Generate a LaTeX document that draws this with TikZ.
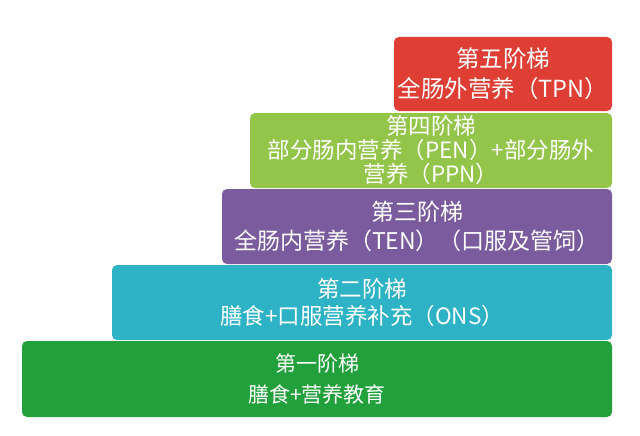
\documentclass[tikz,border=0pt]{standalone}
\usepackage{fontspec}
\setmainfont{Noto Sans CJK SC}
\definecolor{cred}{HTML}{DE3E33}
\definecolor{clgreen}{HTML}{93C54B}
\definecolor{cpurple}{HTML}{7A5B9E}
\definecolor{ccyan}{HTML}{2EB2C6}
\definecolor{cgreen}{HTML}{21A03B}
\tikzset{
  stair/.style={rounded corners=5pt, inner sep=0pt, align=center, text=white,
    font=\fontsize{23}{29}\selectfont},
}
\begin{document}
\begin{tikzpicture}[x=1pt,y=-1pt]
\useasboundingbox (0,0) rectangle (640,436);
\fill[white] (0,0) rectangle (640,436);
\node[stair, fill=cgreen, minimum width=590pt, minimum height=76pt,
  font=\fontsize{21}{31}\selectfont] (s1) at (317,379)
  {第一阶梯\\膳食+营养教育};
\node[stair, fill=ccyan, minimum width=500pt, minimum height=75pt,
  font=\fontsize{22.5}{27}\selectfont] (s2) at (362,302.5)
  {第二阶梯\\膳食+口服营养补充（ONS）};
\node[stair, fill=cpurple, minimum width=390pt, minimum height=75pt] (s3) at (417,226.5)
  {第三阶梯\\全肠内营养（TEN）（口服及管饲）};
\node[stair, fill=clgreen, minimum width=362pt, minimum height=75pt,
  font=\fontsize{22.5}{24}\selectfont] (s4) at (431,150.5)
  {第四阶梯\\部分肠内营养（PEN）+部分肠外\\营养（PPN）};
\node[stair, fill=cred, minimum width=218pt, minimum height=74pt,
  font=\fontsize{23.5}{30}\selectfont] (s5) at (503,74)
  {第五阶梯\\全肠外营养（TPN）};
\end{tikzpicture}
\end{document}
